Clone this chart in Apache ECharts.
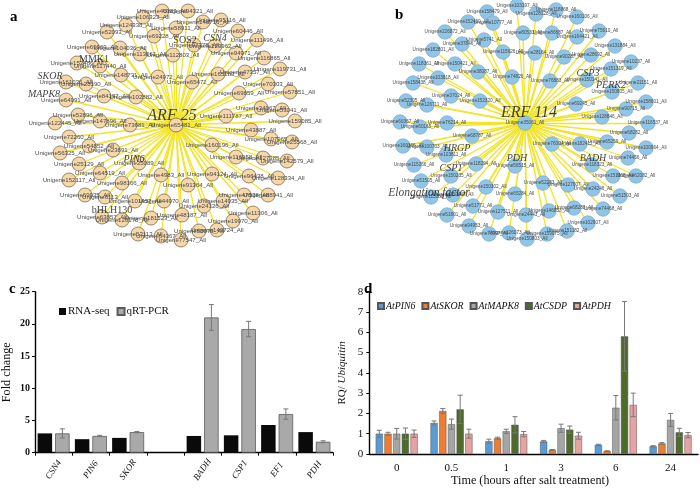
<!DOCTYPE html>
<html><head><meta charset="utf-8">
<style>html,body{margin:0;padding:0;background:#fff}#c{width:700px;height:490px}</style>
<script src="https://cdn.jsdelivr.net/npm/echarts@6/dist/echarts.min.js"></script>
</head><body><div id="c"></div>
<script>
// Panel a network: hub first
const aNames=["Unigene65481_All","Unigene46383_All","Unigene94321_All","Unigene106323_All","Unigene148716_All","Unigene95116_All","Unigene124338_All","Unigene52093_All","Unigene58911_All","Unigene69228_All","Unigene60446_All","Unigene111496_All","Unigene69369_All","Unigene104036_All","Unigene113061_All","Unigene112803_All","Unigene97378_All","Unigene129962_All","Unigene94971_All","Unigene116865_All","Unigene152486_All","Unigene117440_All","Unigene148731_All","Unigene24972_All","Unigene65472_All","Unigene165283_All","Unigene47357_All","Unigene119731_All","Unigene161036_All","Unigene28190_All","Unigene70303_All","Unigene57851_All","Unigene69859_All","Unigene64991_All","Unigene84197_All","Unigene102882_All","Unigene34967_All","Unigene53041_All","Unigene111787_All","Unigene159085_All","Unigene52896_All","Unigene147896_All","Unigene122445_All","Unigene73681_All","Unigene43887_All","Unigene107965_All","Unigene25568_All","Unigene72260_All","Unigene54852_All","Unigene23891_All","Unigene56325_All","Unigene160196_All","Unigene116958_All","Unigene127385_All","Unigene142579_All","Unigene25129_All","Unigene35089_All","Unigene64519_All","Unigene152117_All","Unigene98166_All","Unigene4983_All","Unigene94124_All","Unigene96438_All","Unigene128334_All","Unigene91364_All","Unigene69935_All","Unigene6113_All","Unigene47538_All","Unigene88941_All","Unigene101457_All","Unigene44970_All","Unigene14935_All","Unigene24126_All","Unigene11306_All","Unigene48187_All","Unigene63857_All","Unigene120178_All","Unigene181523_All","Unigene19970_All","Unigene55073_All","Unigene149724_All","Unigene53113_All","Unigene64367_All","Unigene77547_All"];
const aX=[176,162,188,143,203,221,126,107,176,154,238,257,92,120,140,173,194,215,236,264,77,100,121,158,192,218,245,280,66,86,268,290,239,66,104,136,261,282,226,295,78,100,55,130,251,271,292,69,89,113,60,212,236,263,287,79,139,100,69,122,161,212,249,278,188,85,105,244,268,135,164,223,204,253,182,102,122,151,233,199,217,138,161,181];
const aY=[125,11,11,17,22,20,25,32,28,36,31,40,47,48,54,55,45,46,53,58,63,66,75,77,82,74,72,69,82,84,84,92,93,100,96,97,108,110,116,121,115,121,123,125,130,139,142,137,146,150,153,145,157,158,161,164,163,173,180,183,175,174,176,178,185,195,197,195,195,201,201,201,206,213,215,217,220,218,221,231,230,234,236,240];
// Panel b network: hub first
const bNames=["Unigene35061_All","Unigene103197_All","Unigene158479_All","Unigene118868_All","Unigene128128_All","Unigene160106_All","Unigene152400_All","Unigene10777_All","Unigene75610_All","Unigene226872_All","Unigene80533_All","Unigene86887_All","Unigene164421_All","Unigene5741_All","Unigene37846_All","Unigene131884_All","Unigene182801_All","Unigene115626_All","Unigene28164_All","Unigene90287_All","Unigene28692_All","Unigene10237_All","Unigene118361_All","Unigene150421_All","Unigene38087_All","Unigene151319_All","Unigene74826_All","Unigene103818_All","Unigene76883_All","Unigene150141_All","Unigene158438_All","Unigene21151_All","Unigene150805_All","Unigene37024_All","Unigene52305_All","Unigene126711_All","Unigene152320_All","Unigene158601_All","Unigene69245_All","Unigene90715_All","Unigene128846_All","Unigene66367_All","Unigene76214_All","Unigene60165_All","Unigene116537_All","Unigene68282_All","Unigene68787_All","Unigene160366_All","Unigene100703_All","Unigene76004_All","Unigene182412_All","Unigene65259_All","Unigene100964_All","Unigene74456_All","Unigene103811_All","Unigene118294_All","Unigene115266_All","Unigene56515_All","Unigene118323_All","Unigene151968_All","Unigene62082_All","Unigene150235_All","Unigene51505_All","Unigene52283_All","Unigene127607_All","Unigene24246_All","Unigene150302_All","Unigene51503_All","Unigene65284_All","Unigene115283_All","Unigene150447_All","Unigene51771_All","Unigene146853_All","Unigene68288_All","Unigene74468_All","Unigene127511_All","Unigene24443_All","Unigene51801_All","Unigene102907_All","Unigene94953_All","Unigene151182_All","Unigene159075_All","Unigene76997_All","Unigene126073_All","Unigene150803_All"];
const bX=[525,517,487,556,536,577,468,493,599,445,523,552,577,484,462,615,433,503,535,564,591,631,419,455,478,611,512,438,550,587,413,638,612,451,406,427,480,646,576,626,602,400,447,420,648,629,472,403,427,552,580,607,646,628,446,476,414,515,592,613,636,451,421,543,568,593,486,620,515,431,453,473,549,574,603,498,526,447,588,469,567,547,489,509,527];
const bY=[123,6,12,10,14,17,22,23,31,32,33,33,37,40,44,46,50,52,53,57,55,62,64,64,72,69,77,78,81,80,83,83,92,96,101,105,101,102,104,109,117,122,123,127,123,133,136,146,147,144,144,142,148,158,155,164,165,166,165,176,176,176,181,183,185,189,187,196,194,197,195,206,211,208,209,212,215,215,223,226,231,234,234,233,239];
// Overlaid gene names on the networks
const aGeneNames=["ARF 25","CSN4","SKOR","MAPK8","PIN6"];
const aGeneX=[172,215,50,44,134];
const aGeneY=[116,38,76,94,159];
const aGenePlain=["MMK1","SOS2","bHLH130"];
const aGenePlainX=[94,185,112];
const aGenePlainY=[59,40,210];
const bGeneNames=["ERF 114","CSP3","PERK2","HRGP","CSP1","PDH","BADH","Elongation factor"];
const bGeneX=[529,588,611,457,451,517,593,429];
const bGeneY=[113,73,85,148,168,158,158,193];
// Panel c
const cCategories=["CSN4","PIN6","SKOR","","BADH","CSP1","EF1","PDH"];
const rnaSeq=[3.0,2.1,2.3,null,2.6,2.7,4.3,3.2];
const qrtPcr=[3.0,2.6,3.2,null,21.0,19.2,6.0,1.7];
const qrtErr=[0.7,0.1,0.1,null,2.0,1.2,0.8,0.15];
// Panel d
const dCategories=["0","0.5","1","3","6","24"];
const dNames=["AtPIN6","AtSKOR","AtMAPK8","AtCSDP","AtPDH"];
const dColors=["#5b9bd5","#ed7d31","#a5a5a5","#4e6b2c","#e6a3a3"];
const pin6=[1,1.53,0.63,0.62,0.45,0.38];
const skor=[1,2.12,0.78,0.2,0.14,0.52];
const mapk8=[1,1.47,1.12,1.27,2.28,1.68];
const csdp=[1,2.2,1.44,1.2,5.8,1.07];
const pdh=[1,1,0.98,0.9,2.42,0.93];
const pin6Err=[0.17,0.1,0.1,0.05,0.03,0.03];
const skorErr=[0.07,0.12,0.05,0.02,0.02,0.04];
const mapk8Err=[0.26,0.25,0.1,0.2,0.6,0.32];
const csdpErr=[0.28,0.7,0.4,0.18,1.72,0.2];
const pdhErr=[0.18,0.22,0.13,0.17,0.58,0.13];

const SERIF="'Liberation Serif','Times New Roman',serif", SANS="'Liberation Sans',Arial,sans-serif";
function network(names,xs,ys,idx,col,border,size,fs){
  return {type:'graph',coordinateSystem:'cartesian2d',xAxisIndex:idx,yAxisIndex:idx,layout:'none',silent:true,
    symbol:'circle',symbolSize:size,
    data:names.map((n,i)=>({name:n,value:[xs[i],ys[i]]})),
    links:names.slice(1).map((n,i)=>({source:0,target:i+1})),
    itemStyle:{color:col,borderColor:border,borderWidth:0.7},
    lineStyle:{color:'#f3e428',width:1.3,opacity:1,curveness:0},
    label:{show:true,position:'inside',formatter:'{b}',fontFamily:SANS,fontSize:fs,color:'#4a4a4a'},
    animation:false,z:2};
}
function overlay(names,xs,ys,idx,style,big){
  return {type:'scatter',xAxisIndex:idx,yAxisIndex:idx,symbolSize:0,silent:true,animation:false,z:5,
    data:names.map((n,i)=>({name:n,value:[xs[i],ys[i]],
      label:{fontSize:(n===big?16:(n==='Elongation factor'?11.5:10))}})),
    label:{show:true,position:'inside',formatter:'{b}',fontFamily:SERIF,fontStyle:style,color:'#111',fontSize:10}};
}
function errBars(name,vals,errs,xi,offset,color,capW){
  return {type:'custom',name:name+' err',xAxisIndex:xi,yAxisIndex:xi,silent:true,animation:false,z:6,
    data:vals.map((v,i)=>[i,v,errs[i]]).filter(d=>d[1]!=null),
    encode:{x:0,y:1},
    renderItem(params,api){
      const i=api.value(0),v=api.value(1),e=api.value(2);
      const t=api.coord([i,v+e]),b=api.coord([i,v-e]);
      const x=t[0]+offset;
      const st={stroke:color,lineWidth:1,fill:'none'};
      return {type:'group',children:[
        {type:'line',shape:{x1:x,y1:t[1],x2:x,y2:b[1]},style:st},
        {type:'line',shape:{x1:x-capW,y1:t[1],x2:x+capW,y2:t[1]},style:st},
        {type:'line',shape:{x1:x-capW,y1:b[1],x2:x+capW,y2:b[1]},style:st}]};
    }};
}
const bw=14.5, gapC=3, bwD=7.2, gapD=1.5;
const dVals=[pin6,skor,mapk8,csdp,pdh], dErrs=[pin6Err,skorErr,mapk8Err,csdpErr,pdhErr];
const hidden=(min,max,inv,idx)=>({type:'value',gridIndex:idx,min,max,inverse:inv,show:false});
const catAxis=(data,idx,lab,tick)=>({type:'category',gridIndex:idx,data,
  axisLine:{lineStyle:{color:'#000',width:1.4}},
  axisTick:{show:tick,length:3,lineStyle:{color:'#000',width:1}},axisLabel:lab});
const option={
  backgroundColor:'#fff',animation:false,
  grid:[
    {left:0,top:0,width:350,height:245},
    {left:350,top:0,width:350,height:245},
    {left:35,top:291.7,width:298,height:161},
    {left:369.3,top:291.7,width:328.7,height:162.3}
  ],
  xAxis:[
    hidden(0,350,false,0),hidden(350,700,false,1),
    catAxis(cCategories,2,{interval:0,rotate:55,margin:17,align:'center',verticalAlign:'middle',fontFamily:SERIF,fontStyle:'italic',fontSize:9,color:'#111'},true),
    catAxis(dCategories,3,{interval:0,margin:9,fontFamily:SERIF,fontSize:11,color:'#111'},false)
  ],
  yAxis:[
    hidden(0,245,true,0),hidden(0,245,true,1),
    {type:'value',gridIndex:2,min:0,max:25,interval:5,splitLine:{show:false},
     axisLine:{show:true,lineStyle:{color:'#000',width:1.4}},axisTick:{show:true,length:3,lineStyle:{color:'#000'}},
     axisLabel:{margin:5,fontFamily:SERIF,fontWeight:'bold',fontSize:10,color:'#111'},
     name:'Fold change',nameLocation:'middle',nameGap:22,nameTextStyle:{fontFamily:SERIF,fontSize:12.2,color:'#111'}},
    {type:'value',gridIndex:3,min:0,max:8,interval:1,splitLine:{show:false},
     axisLine:{show:true,lineStyle:{color:'#000',width:1.4}},axisTick:{show:true,length:3,lineStyle:{color:'#000'}},
     axisLabel:{margin:6,fontFamily:SERIF,fontSize:11,color:'#111'},
     name:'{n|RQ/ }{i|Ubiquitin}',nameLocation:'middle',nameGap:22,
     nameTextStyle:{rich:{n:{fontFamily:SERIF,fontSize:11,color:'#111'},i:{fontFamily:SERIF,fontStyle:'italic',fontSize:11,color:'#111'}}}}
  ],
  legend:[
    {data:['RNA-seq','qRT-PCR'],left:59,top:306,itemWidth:7,itemHeight:7,itemGap:7,padding:0,icon:'rect',selectedMode:false,
     textStyle:{fontFamily:SERIF,fontSize:11,color:'#111',padding:[0,0,0,-3]}},
    {data:dNames,left:377,top:301,itemWidth:6,itemHeight:6,itemGap:6,padding:0,icon:'rect',selectedMode:false,
     textStyle:{fontFamily:SERIF,fontStyle:'italic',fontSize:9.8,color:'#111',padding:[0,0,0,-3]}}
  ],
  graphic:[
    {type:'text',left:10,top:10,style:{text:'a',font:"bold 15px "+SERIF,fill:'#000'}},
    {type:'text',left:395,top:8,style:{text:'b',font:"bold 15px "+SERIF,fill:'#000'}},
    {type:'text',left:9,top:282,style:{text:'c',font:"bold 15px "+SERIF,fill:'#000'}},
    {type:'text',left:364,top:282,style:{text:'d',font:"bold 15px "+SERIF,fill:'#000'}},
    {type:'text',left:451,top:475,style:{text:'Time (hours after salt treatment)',font:"12.2px "+SERIF,fill:'#111'}}
  ],
  series:[
    network(aNames,aX,aY,0,'#f6d7a8','#6b5b45',14,6.1),
    network(bNames,bX,bY,1,'#8fc5e6','#7fa9c4',14.5,4.7),
    overlay(aGeneNames,aGeneX,aGeneY,0,'italic','ARF 25'),
    overlay(aGenePlain,aGenePlainX,aGenePlainY,0,'normal',''),
    overlay(bGeneNames,bGeneX,bGeneY,1,'italic','ERF 114'),
    {type:'bar',name:'RNA-seq',xAxisIndex:2,yAxisIndex:2,data:rnaSeq,barWidth:bw,barGap:(gapC/bw*100)+'%',
     itemStyle:{color:'#0a0a0a'},animation:false},
    {type:'bar',name:'qRT-PCR',xAxisIndex:2,yAxisIndex:2,data:qrtPcr,barWidth:bw,barGap:(gapC/bw*100)+'%',
     itemStyle:{color:'#a9a9a9',borderColor:'#5a5a5a',borderWidth:0.8},animation:false},
    errBars('qRT-PCR',qrtPcr,qrtErr,2,(bw+gapC)/2,'#777',2.5),
    ...dNames.map((n,k)=>({type:'bar',name:n,xAxisIndex:3,yAxisIndex:3,data:dVals[k],barWidth:bwD,barGap:(gapD/bwD*100)+'%',
      itemStyle:{color:dColors[k],borderColor:'#555',borderWidth:0.5},animation:false})),
    ...dNames.map((n,k)=>errBars(n,dVals[k],dErrs[k],3,(k-2)*(bwD+gapD),'#777',2.5))
  ]
};
echarts.init(document.getElementById('c'),null,{renderer:'canvas'}).setOption(option);
</script></body></html>
